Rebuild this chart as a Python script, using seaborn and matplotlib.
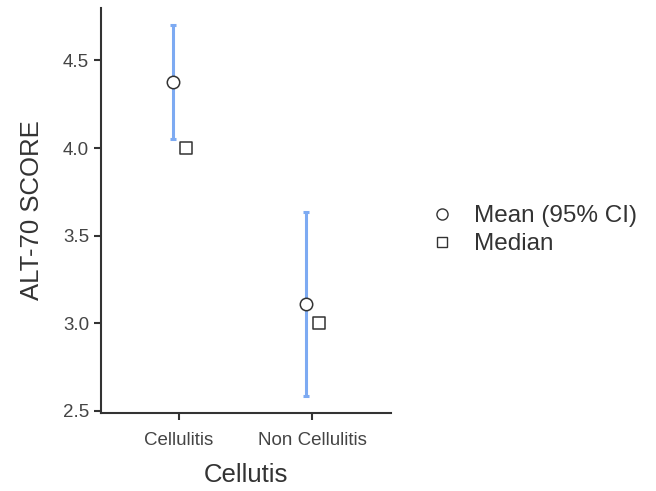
import seaborn as sns
import matplotlib.pyplot as plt
from matplotlib.lines import Line2D
import numpy as np
import pandas as pd

# Data
groups = ['Cellulitis', 'Non Cellulitis']
means = [4.374, 3.111]
ci_low = [4.05, 2.587]
ci_high = [4.70, 3.637]
medians = [4.0, 3.0]

sns.set_theme(style='ticks')
plt.rcParams['font.family'] = ['Liberation Sans', 'DejaVu Sans']

df = pd.DataFrame({'group': groups, 'mean': means, 'lo': ci_low,
                   'hi': ci_high, 'median': medians})
df['pos'] = np.arange(len(groups))

fig = plt.figure(figsize=(6.56, 4.91), dpi=100)
ax = fig.add_axes([0.154, 0.159, 0.442, 0.825])

edge = '#333333'
blue = '#7DAAF2'

ax.errorbar(df['pos'] - 0.045, df['mean'],
            yerr=[df['mean'] - df['lo'], df['hi'] - df['mean']],
            fmt='none', ecolor=blue, elinewidth=2.2, capsize=2.5,
            capthick=2.2, zorder=2)
sns.scatterplot(x=df['pos'] - 0.045, y=df['mean'], ax=ax, marker='o',
                s=80, color='white', edgecolor=edge, linewidth=1.1, zorder=3)
sns.scatterplot(x=df['pos'] + 0.05, y=df['median'], ax=ax, marker='s',
                s=65, color='white', edgecolor=edge, linewidth=1.1, zorder=3)

ax.set_xlim(-0.587, 1.594)
ax.set_ylim(2.488, 4.80)
ax.set_xticks(df['pos'])
ax.set_xticklabels(groups)
ax.set_yticks([2.5, 3.0, 3.5, 4.0, 4.5])
ax.set_xlabel('Cellutis', fontsize=18.5, color='#333333', labelpad=10)
ax.set_ylabel('ALT-70 SCORE', fontsize=18.5, color='#333333', labelpad=14)
ax.tick_params(axis='both', labelsize=13.5, labelcolor='#444444',
               color=edge, width=1.5, length=5)
ax.tick_params(axis='x', pad=9)
for side in ['top', 'right']:
    ax.spines[side].set_visible(False)
for side in ['left', 'bottom']:
    ax.spines[side].set_color(edge)
    ax.spines[side].set_linewidth(1.5)

handles = [
    Line2D([], [], marker='o', linestyle='none', markersize=8,
           markerfacecolor='white', markeredgecolor=edge, markeredgewidth=1.0),
    Line2D([], [], marker='s', linestyle='none', markersize=7,
           markerfacecolor='white', markeredgecolor=edge, markeredgewidth=1.0),
]
fig.legend(handles, ['Mean (95% CI)', 'Median'], loc='center left',
           bbox_to_anchor=(0.622, 0.531), frameon=False, fontsize=17.5,
           handlelength=1.0, handletextpad=0.8, labelspacing=0.25,
           labelcolor='#333333')

fig.savefig('out.png', dpi=100)
